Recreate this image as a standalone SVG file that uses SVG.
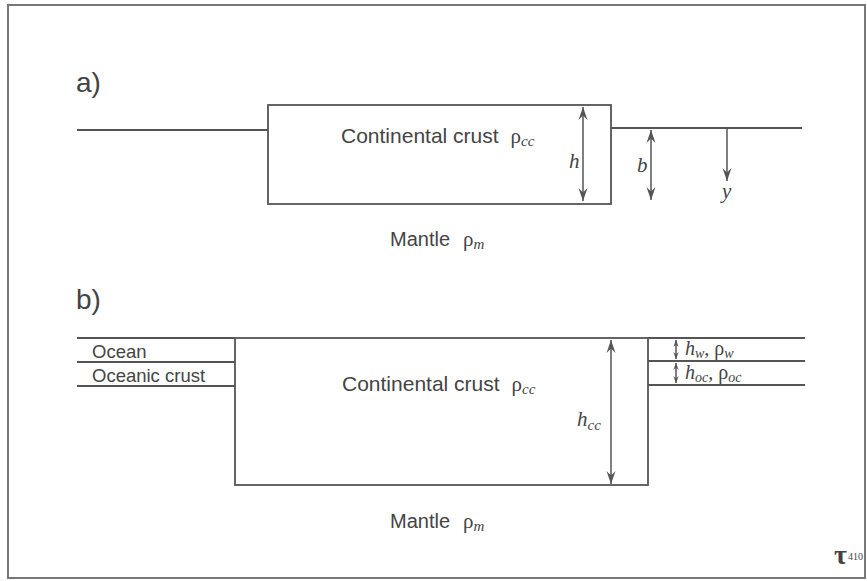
<svg xmlns="http://www.w3.org/2000/svg" width="867" height="581" viewBox="0 0 867 581">
<style>
.ln{stroke:#555;stroke-width:1.8;fill:none}
.ar{stroke:#555;stroke-width:1.5;fill:none}
.t{font-family:"Liberation Sans",Arial,sans-serif;fill:#444}
.s{font-family:"Liberation Serif","Times New Roman",serif;fill:#444;font-style:italic}
.g{font-family:"Liberation Serif","Times New Roman",serif;fill:#444;font-style:normal}
</style>
<defs>
<marker id="ah" viewBox="0 0 10 10" refX="10" refY="5" markerWidth="13" markerHeight="10" orient="auto-start-reverse" markerUnits="userSpaceOnUse" preserveAspectRatio="none">
<path d="M0,0.5 L10,5 L0,9.5 L3.5,5 Z" fill="#555"/>
</marker>
<marker id="sh" viewBox="0 0 10 10" refX="10" refY="5" markerWidth="7" markerHeight="6" orient="auto-start-reverse" markerUnits="userSpaceOnUse" preserveAspectRatio="none">
<path d="M0,0.5 L10,5 L0,9.5 L3.5,5 Z" fill="#555"/>
</marker>
</defs>
<rect width="867" height="581" fill="#fff"/>
<rect x="8" y="5" width="857" height="573" fill="none" stroke="#777" stroke-width="2"/>

<g id="panel-a">
<text class="t" x="76" y="92" font-size="28">a)</text>
<g id="a-surface-left"><line class="ln" x1="77" y1="130" x2="268" y2="130"/></g>
<g id="a-crust">
<rect class="ln" x="268" y="105" width="343" height="99"/>
<text class="t" x="341" y="143" font-size="21">Continental crust<tspan class="g" font-size="21" dx="12">ρ</tspan><tspan class="s" font-size="15" dy="3">cc</tspan></text>
</g>
<g id="a-surface-right"><line class="ln" x1="611" y1="128" x2="802" y2="128"/></g>
<g id="a-mantle"><text class="t" x="390" y="246" font-size="20">Mantle<tspan class="g" font-size="21" dx="13">ρ</tspan><tspan class="s" font-size="15" dy="3">m</tspan></text></g>
<g id="a-labels">
<text class="s" x="569" y="168" font-size="21">h</text>
<text class="s" x="637" y="172" font-size="21">b</text>
<text class="s" x="722" y="198" font-size="21">y</text>
</g>
</g>

<g id="panel-b">
<text class="t" x="76" y="309" font-size="28">b)</text>
<g id="b-ocean">
<line class="ln" x1="77" y1="338" x2="235" y2="338"/>
<line class="ln" x1="77" y1="362" x2="235" y2="362"/>
<text class="t" x="92" y="358" font-size="18.5">Ocean</text>
</g>
<g id="b-oceanic-crust">
<line class="ln" x1="77" y1="386" x2="235" y2="386"/>
<text class="t" x="92" y="382" font-size="18.5">Oceanic crust</text>
</g>
<g id="b-crust">
<rect class="ln" x="235" y="338" width="413" height="147"/>
<text class="t" x="342" y="391" font-size="21">Continental crust<tspan class="g" font-size="21" dx="12">ρ</tspan><tspan class="s" font-size="15" dy="3">cc</tspan></text>
<text class="s" x="577" y="426" font-size="21">h<tspan font-size="15" dy="4">cc</tspan></text>
</g>
<g id="b-right-layers">
<line class="ln" x1="648" y1="338" x2="805" y2="338"/>
<line class="ln" x1="648" y1="361" x2="805" y2="361"/>
<line class="ln" x1="648" y1="385" x2="805" y2="385"/>
<text class="s" x="685" y="355" font-size="20">h<tspan font-size="14" dy="3">w</tspan><tspan dy="-3">,</tspan><tspan class="g" font-size="20"> ρ</tspan><tspan font-size="14" dy="3">w</tspan></text>
<text class="s" x="685" y="379" font-size="20">h<tspan font-size="14" dy="3">oc</tspan><tspan dy="-3">,</tspan><tspan class="g" font-size="20"> ρ</tspan><tspan font-size="14" dy="3">oc</tspan></text>
</g>
<g id="b-mantle"><text class="t" x="390" y="528" font-size="20">Mantle<tspan class="g" font-size="21" dx="13">ρ</tspan><tspan class="s" font-size="15" dy="3">m</tspan></text></g>
</g>

<g id="connectors">
<line class="ar" x1="583" y1="107" x2="583" y2="201" marker-start="url(#ah)" marker-end="url(#ah)"/>
<line class="ar" x1="651" y1="130" x2="651" y2="200" marker-start="url(#ah)" marker-end="url(#ah)"/>
<line class="ar" x1="727" y1="128" x2="727" y2="181" marker-end="url(#ah)"/>
<line class="ar" x1="611" y1="340" x2="611" y2="484" marker-start="url(#ah)" marker-end="url(#ah)"/>
<line class="ar" x1="676" y1="340" x2="676" y2="359" marker-start="url(#sh)" marker-end="url(#sh)"/>
<line class="ar" x1="676" y1="363" x2="676" y2="383" marker-start="url(#sh)" marker-end="url(#sh)"/>
</g>

<g id="logo">
<text class="g" x="834" y="564" font-size="28" font-weight="bold" fill="#333">τ</text>
<text class="g" x="848" y="560" font-size="10" fill="#333">410</text>
</g>
</svg>
